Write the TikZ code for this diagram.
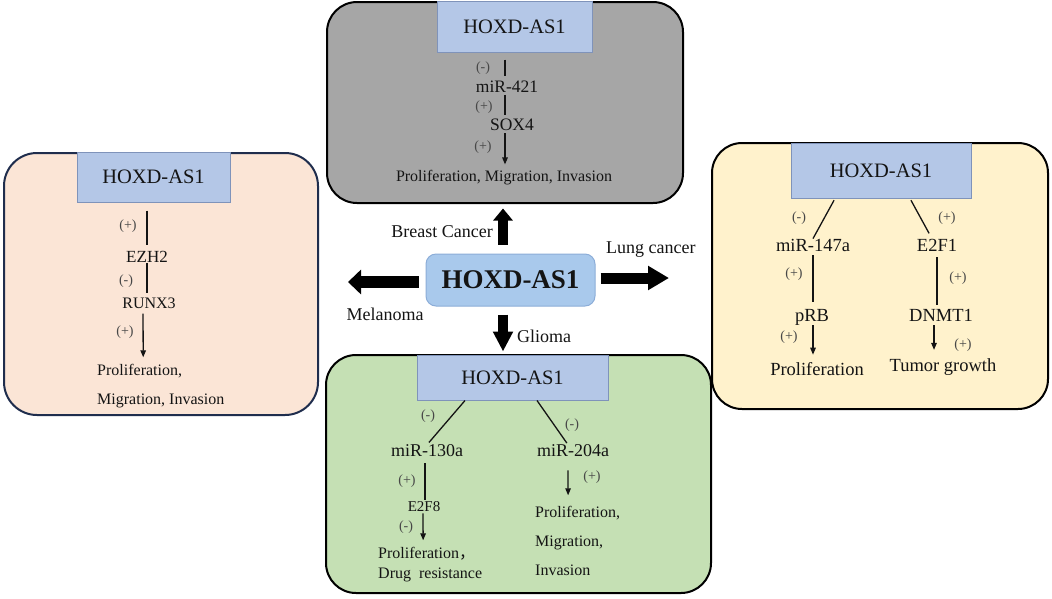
\documentclass[tikz,border=0pt]{standalone}
\usepackage{fontspec}
\setmainfont{Liberation Serif}
\newfontfamily\cjkfont{Noto Sans CJK SC}
\usetikzlibrary{arrows.meta}
\definecolor{topfill}{HTML}{A6A6A6}
\definecolor{leftfill}{HTML}{FBE5D6}
\definecolor{leftline}{HTML}{1F2D4D}
\definecolor{rightfill}{HTML}{FFF2CC}
\definecolor{botfill}{HTML}{C5E0B4}
\definecolor{hdrfill}{HTML}{B4C7E7}
\definecolor{hdrline}{HTML}{7F93BA}
\definecolor{cfill}{HTML}{A9C9EC}
\definecolor{cline}{HTML}{8CADD8}
\definecolor{txt}{HTML}{141414}
\definecolor{signc}{HTML}{474747}
\newcommand{\fs}[1]{\fontsize{#1}{#1}\selectfont}
\begin{document}
\begin{tikzpicture}[x=1pt,y=-1pt,
  panel/.style={draw=black, line width=2pt, rounded corners=30pt, inner sep=0pt},
  hdr/.style={draw=hdrline, fill=hdrfill, line width=1pt, inner sep=0pt, text=txt, font=\fs{20.5}},
  gene/.style={inner sep=0pt, text=txt},
  sign/.style={inner sep=0pt, font=\fs{14}, text=signc},
  lbl/.style={inner sep=0pt, text=txt, font=\fs{18}},
  link/.style={line width=1.3pt, draw=txt},
  arr/.style={link, -{Triangle[width=5.5pt,length=7pt]}},
  bigarrow/.style={draw=black}
]
\useasboundingbox[fill=white] (0,0) rectangle (1052,598);

% ---------- panels ----------
\node[panel, fill=topfill, minimum width=356pt, minimum height=201pt] (topP) at (505,102.5) {};
\node[panel, draw=leftline, fill=leftfill, rounded corners=33pt, minimum width=314pt, minimum height=262pt] (leftP) at (161,284) {};
\node[panel, fill=rightfill, minimum width=336pt, minimum height=266pt] (rightP) at (880,276) {};
\node[panel, fill=botfill, minimum width=385pt, minimum height=238pt] (botP) at (518.5,474) {};

% ---------- headers ----------
\node[hdr, minimum width=155pt, minimum height=51pt] (topH) at (514.5,26.5) {HOXD-AS1};
\node[hdr, minimum width=153pt, minimum height=50pt] (leftH) at (153.5,177) {HOXD-AS1};
\node[hdr, minimum width=180pt, minimum height=55pt] (rightH) at (881,170.5) {HOXD-AS1};
\node[hdr, minimum width=191pt, minimum height=45pt] (botH) at (512.5,377.5) {HOXD-AS1};

% ---------- center ----------
\node[draw=cline, fill=cfill, line width=1pt, rounded corners=10pt, minimum width=169pt, minimum height=52pt,
      inner sep=0pt, text=txt, font=\fs{27}\bfseries] (cnode) at (510.5,280) {HOXD-AS1};

% big arrows
\draw[bigarrow, line width=10pt, -{Triangle[width=19pt,length=12pt]}, shorten <=9pt, shorten >=4.5pt]
  ([xshift=-7.5pt]cnode.north) -- ([xshift=-2pt]topP.south);
\draw[bigarrow, line width=10pt, -{Triangle[width=19pt,length=20pt]}, shorten <=8pt, shorten >=3pt]
  ([xshift=-7.5pt]cnode.south) -- ([xshift=-9.5pt]botH.north);
\draw[bigarrow, line width=11pt, -{Triangle[width=23pt,length=21pt]}, shorten <=5pt, shorten >=42pt]
  ([yshift=2pt]cnode.east) -- ([yshift=-2pt]rightP.west);
\draw[bigarrow, line width=12pt, -{Triangle[width=24pt,length=13pt]}, shorten <=7pt, shorten >=29pt]
  ([yshift=-2pt]cnode.west) -- ([yshift=2pt]leftP.east);

\node[lbl, anchor=east] (lbBreast) at (493,232) {Breast Cancer};
\node[lbl, anchor=west] (lbLung) at (606,250) {Lung cancer};
\node[lbl] (lbMel) at (385,314) {Melanoma};
\node[lbl, anchor=west] (lbGli) at (517,336) {Glioma};

% ---------- top panel (breast cancer) ----------
\node[gene, font=\fs{17.5}] (mir421) at (507,87) {miR-421};
\node[gene, font=\fs{17.5}] (sox4) at (512,125) {SOX4};
\node[gene, font=\fs{16}] (topOut) at (504,177.5) {Proliferation, Migration, Invasion};
\node[sign] (tS1) at (483,68) {(-)};
\node[sign] (tS2) at (484,107) {(+)};
\node[sign] (tS3) at (483,147) {(+)};
\draw[link, shorten <=7pt, shorten >=5pt] ([xshift=-9.5pt]topH.south) -- ([xshift=-2pt]mir421.north);
\draw[link, shorten <=2pt, shorten >=4pt] ([xshift=-2pt]mir421.south) -- ([xshift=-7pt]sox4.north);
\draw[arr, shorten <=2pt, shorten >=5.5pt] ([xshift=-7pt]sox4.south) -- ([xshift=1pt]topOut.north);

% ---------- left panel (melanoma) ----------
\node[gene, font=\fs{17}] (ezh2) at (147,257) {EZH2};
\node[gene, font=\fs{16}] (runx3) at (149,303) {RUNX3};
\node[gene, align=left, anchor=north west, font=\fontsize{16}{29}\selectfont] (leftOut) at (97,364.3)
  {Proliferation,\\Migration, Invasion};
\node[sign] (lS1) at (128,226) {(+)};
\node[sign] (lS2) at (126,281) {(-)};
\node[sign] (lS3) at (125,332) {(+)};
\draw[link, shorten <=8pt, shorten >=6pt] ([xshift=-6.5pt]leftH.south) -- (ezh2.north);
\draw[link, shorten >=4.5pt] (ezh2.south) -- ([xshift=-2pt]runx3.north);
\draw[arr, shorten <=5pt, shorten >=7pt] ([xshift=-6pt]runx3.south) -- ([xshift=-17.5pt]leftOut.north);

% ---------- right panel (lung cancer) ----------
\node[gene, font=\fs{18.5}] (mir147) at (813,245) {miR-147a};
\node[gene, font=\fs{18.5}] (e2f1) at (937,245) {E2F1};
\node[gene, font=\fs{18.5}] (prb) at (812,317) {pRB};
\node[gene, font=\fs{18.5}] (dnmt1) at (941,315) {DNMT1};
\node[gene, font=\fs{18.5}] (rOutL) at (817,369) {Proliferation};
\node[gene, font=\fs{18.5}] (rOutR) at (943,367) {Tumor growth};
\node[sign] (rS1) at (799,218) {(-)};
\node[sign] (rS2) at (947,218) {(+)};
\node[sign] (rS3) at (794,274) {(+)};
\node[sign] (rS4) at (958,278) {(+)};
\node[sign] (rS5) at (789,337) {(+)};
\node[sign] (rS6) at (963,345) {(+)};
\draw[link, shorten <=2pt] ([xshift=-46pt]rightH.south) -- (mir147.north);
\draw[link, shorten <=2pt, shorten >=6pt] ([xshift=29pt]rightH.south) -- ([xshift=-5pt]e2f1.north);
\draw[link, shorten <=4pt, shorten >=7pt] (mir147.south) -- ([xshift=1pt]prb.north);
\draw[link, shorten <=6pt, shorten >=4pt] (e2f1.south) -- ([xshift=-4pt]dnmt1.north);
\draw[arr, shorten >=7.5pt] ([xshift=1pt]prb.south) -- ([xshift=-4pt]rOutL.north);
\draw[arr, shorten <=4pt, shorten >=8.5pt] ([xshift=-7pt]dnmt1.south) -- ([xshift=-9pt]rOutR.north);

% ---------- bottom panel (glioma) ----------
\node[gene, font=\fs{18}] (mir130) at (427,451) {miR-130a};
\node[gene, font=\fs{18}] (mir204) at (573,451) {miR-204a};
\node[gene, font=\fs{15}] (e2f8) at (424,507) {E2F8};
\node[gene, align=left, anchor=north west, font=\fontsize{16}{20}\selectfont] (bOutL) at (378,547.3)
  {Proliferation{\cjkfont ，}\\Drug\hspace{0.5em}resistance};
\node[gene, align=left, anchor=north west, font=\fontsize{16}{29}\selectfont] (bOutR) at (535,506.3)
  {Proliferation,\\Migration,\\Invasion};
\node[sign] (bS1) at (428,416) {(-)};
\node[sign] (bS2) at (572,425) {(-)};
\node[sign] (bS3) at (407,481) {(+)};
\node[sign] (bS4) at (406,527) {(-)};
\node[sign] (bS5) at (592,477) {(+)};
\draw[link, shorten >=3pt] ([xshift=-47.5pt]botH.south) -- (mir130.north);
\draw[link, shorten >=2pt] ([xshift=24.5pt]botH.south) -- ([xshift=-5pt]mir204.north);
\draw[link, shorten <=6pt, shorten >=2pt] ([xshift=-2pt]mir130.south) -- ([xshift=1pt]e2f8.north);
\draw[arr, shorten <=1pt, shorten >=7pt] ([xshift=-1pt]e2f8.south) -- ([xshift=-7pt]bOutL.north);
\draw[arr, shorten <=13pt, shorten >=11pt] ([xshift=-5pt]mir204.south) -- ([xshift=-9.5pt]bOutR.north);
\end{tikzpicture}
\end{document}
